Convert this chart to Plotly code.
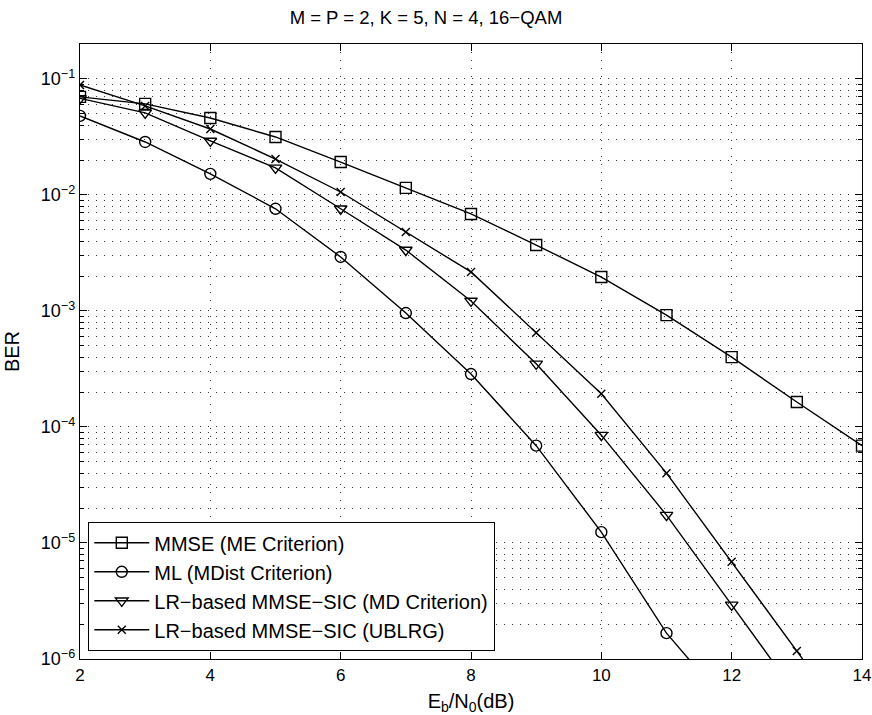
import plotly.graph_objects as go

snr = [2, 3, 4, 5, 6, 7, 8, 9, 10, 11, 12, 13, 14]

mmse_me = [0.070, 0.061, 0.046, 0.0316, 0.0192, 0.0115, 0.00686, 0.0037, 0.00196,
           9.2e-4, 4.0e-4, 1.64e-4, 6.9e-5]
ml_mdist = [0.048, 0.0286, 0.0152, 0.0076, 0.00292, 9.6e-4, 2.86e-4, 6.9e-5, 1.24e-5,
            1.67e-6, 3.7e-7]
lr_md = [0.068, 0.051, 0.0292, 0.0171, 0.0076, 0.00335, 0.00122, 3.5e-4, 8.5e-5,
         1.74e-5, 2.93e-6, 4.9e-7]
lr_ublrg = [0.0887, 0.0585, 0.037, 0.0204, 0.0106, 0.0048, 0.00217, 6.5e-4, 1.93e-4,
            4.0e-5, 6.9e-6, 1.17e-6, 2.0e-7]

names = ["MMSE (ME Criterion)", "ML (MDist Criterion)",
         "LR\u2212based MMSE\u2212SIC (MD Criterion)", "LR\u2212based MMSE\u2212SIC (UBLRG)"]
symbols = ["square-open", "circle-open", "triangle-down-open", "x-thin-open"]
series = [mmse_me, ml_mdist, lr_md, lr_ublrg]

ytick_vals = [1e-6, 1e-5, 1e-4, 1e-3, 1e-2, 1e-1]
ytick_text = ["10<sup>\u22126</sup>", "10<sup>\u22125</sup>", "10<sup>\u22124</sup>",
              "10<sup>\u22123</sup>", "10<sup>\u22122</sup>", "10<sup>\u22121</sup>"]
xtick_vals = [2, 4, 6, 8, 10, 12, 14]

FONT = "Liberation Sans, Arial, Helvetica, sans-serif"

fig = go.Figure()
for name, sym, ys in zip(names, symbols, series):
    fig.add_trace(go.Scatter(
        x=snr[:len(ys)], y=ys, name=name, mode="lines+markers",
        line=dict(color="black", width=1.4),
        marker=dict(symbol=sym, size=11 if sym != "x-thin-open" else 8,
                    color="black", line=dict(color="black", width=1.4)),
    ))

grid_color = "#3a3a3a"
grid_dash = "1px,7px"
fig.update_layout(
    width=872, height=715,
    paper_bgcolor="white", plot_bgcolor="white",
    margin=dict(l=80, r=10, t=44, b=56),
    font=dict(family=FONT, size=17, color="black"),
    title=dict(text="M = P = 2, K = 5, N = 4, 16\u2212QAM", x=0.4885, xanchor="center",
               y=0.976, yanchor="middle", font=dict(size=18.5)),
    showlegend=True,
    legend=dict(x=0.0102, y=0.013, xanchor="left", yanchor="bottom",
                bgcolor="white", bordercolor="black", borderwidth=1.3,
                font=dict(size=20), itemwidth=55, tracegroupgap=0,
                traceorder="normal"),
)
fig.update_xaxes(
    range=[2, 14], tickvals=xtick_vals, ticks="inside", ticklen=7, tickwidth=1,
    tickcolor="black", showline=True, linecolor="black", linewidth=1.4, mirror="allticks",
    showgrid=True, gridcolor=grid_color, griddash=grid_dash, gridwidth=1,
    zeroline=False, tickfont=dict(size=17), automargin=False, ticklabeloverflow="allow",
    title=dict(text="E<sub>b</sub>/N<sub>0</sub>(dB)", font=dict(size=20)),
)
fig.update_yaxes(
    type="log", range=[-6, -0.699], tickvals=ytick_vals, ticktext=ytick_text,
    ticks="inside", ticklen=7, tickwidth=1, tickcolor="black",
    showline=True, linecolor="black", linewidth=1.4, mirror="allticks",
    showgrid=True, gridcolor=grid_color, griddash=grid_dash, gridwidth=1,
    zeroline=False, tickfont=dict(size=18), automargin=False,
    minor=dict(ticks="inside", ticklen=4, tickcolor="black", showgrid=True,
               gridcolor=grid_color, griddash=grid_dash, gridwidth=1,
               tickvals=[m * 10 ** e for e in range(-6, 0) for m in range(2, 10)]),
    title=dict(text="BER", font=dict(size=20)),
)

# remove the browser's default 8px body margin so the figure fills the window exactly
fig.write_html("out.html", config={"displayModeBar": False},
               post_script="document.body.style.margin='0';document.body.style.overflow='hidden';")
